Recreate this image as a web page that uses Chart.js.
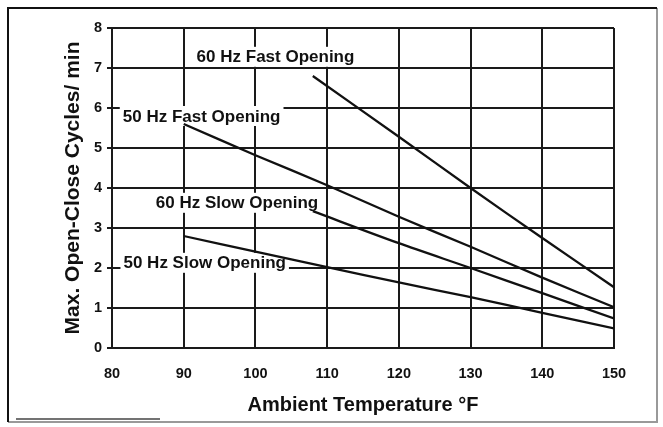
<!DOCTYPE html>
<html>
<head>
<meta charset="utf-8">
<script src="https://cdn.jsdelivr.net/npm/chart.js@4"></script>
<style>
  html, body { margin: 0; padding: 0; background: #fff; }
  #wrap { width: 663px; height: 427px; position: relative; }
</style>
</head>
<body>
<div id="wrap"><canvas id="chart" width="663" height="427"></canvas></div>
<script>
// 축 눈금
const xTicks = [80, 90, 100, 110, 120, 130, 140, 150];
const yTicks = [0, 1, 2, 3, 4, 5, 6, 7, 8];

// 곡선 데이터 (온도 °F / 분당 최대 개폐 횟수)
const fast60Temp = [108, 120, 130, 140, 150];
const fast60Cycles = [6.8, 5.28, 4.0, 2.75, 1.52];

const fast50Temp = [90, 100, 110, 120, 130, 140, 150];
const fast50Cycles = [5.6, 4.82, 4.07, 3.28, 2.53, 1.76, 1.02];

const slow60Temp = [108, 120, 130, 140, 150];
const slow60Cycles = [3.42, 2.62, 2.0, 1.37, 0.74];

const slow50Temp = [90, 100, 110, 120, 130, 140, 150];
const slow50Cycles = [2.8, 2.41, 2.02, 1.64, 1.27, 0.88, 0.49];

// 곡선 이름표 (왼쪽 끝 x, 가운데 y — 데이터 단위)
const labelText = ['60 Hz Fast Opening', '50 Hz Fast Opening', '60 Hz Slow Opening', '50 Hz Slow Opening'];
const labelX = [91.8, 81.5, 86.1, 81.6];
const labelY = [7.28, 5.8, 3.63, 2.13];

function toPoints(xs, ys) {
    return xs.map((x, i) => ({ x: x, y: ys[i] }));
}

function curve(xs, ys) {
    return {
        data: toPoints(xs, ys),
        borderColor: '#111',
        borderWidth: 2.3,
        pointRadius: 0,
        showLine: true,
        fill: false,
        tension: 0.3
    };
}

const FONT = "'Liberation Sans', Arial, sans-serif";

// 바깥 테두리
const framePlugin = {
    id: 'frame',
    beforeDraw(chart) {
        const ctx = chart.ctx;
        ctx.save();
        ctx.fillStyle = '#fff';
        ctx.fillRect(0, 0, chart.width, chart.height);
        ctx.lineWidth = 2;
        ctx.strokeStyle = '#999';
        ctx.beginPath();
        ctx.moveTo(657, 8);
        ctx.lineTo(657, 422);
        ctx.lineTo(8, 422);
        ctx.stroke();
        ctx.strokeStyle = '#111';
        ctx.beginPath();
        ctx.moveTo(8, 422);
        ctx.lineTo(8, 8);
        ctx.lineTo(657, 8);
        ctx.stroke();
        // 왼쪽 아래 짧은 선
        ctx.lineWidth = 1.5;
        ctx.strokeStyle = '#444';
        ctx.beginPath();
        ctx.moveTo(16, 419);
        ctx.lineTo(160, 419);
        ctx.stroke();
        ctx.restore();
    }
};

// 흰 배경 위에 이름표 그리기
const labelPlugin = {
    id: 'curveLabels',
    beforeDatasetsDraw(chart) {
        const ctx = chart.ctx;
        const xs = chart.scales.x;
        const ys = chart.scales.y;
        ctx.save();
        ctx.font = 'bold 17px ' + FONT;
        ctx.textBaseline = 'middle';
        ctx.textAlign = 'left';
        labelText.forEach((t, i) => {
            const px = xs.getPixelForValue(labelX[i]);
            const py = ys.getPixelForValue(labelY[i]);
            const w = ctx.measureText(t).width;
            ctx.fillStyle = '#fff';
            ctx.fillRect(px - 3, py - 10, w + 6, 20);
            ctx.fillStyle = '#111';
            ctx.fillText(t, px, py + 1);
        });
        ctx.restore();
    }
};

new Chart(document.getElementById('chart').getContext('2d'), {
    type: 'scatter',
    data: {
        datasets: [
            curve(fast60Temp, fast60Cycles),
            curve(fast50Temp, fast50Cycles),
            curve(slow60Temp, slow60Cycles),
            curve(slow50Temp, slow50Cycles)
        ]
    },
    options: {
        responsive: false,
        animation: false,
        layout: { padding: { left: 0, top: 28, right: 49, bottom: 0 } },
        plugins: {
            legend: { display: false },
            tooltip: { enabled: false }
        },
        scales: {
            x: {
                type: 'linear',
                min: 80,
                max: 150,
                afterBuildTicks(scale) { scale.ticks = xTicks.map(v => ({ value: v })); },
                afterFit(scale) { scale.height = 79; },
                grid: { color: '#1a1a1a', lineWidth: 2, tickLength: 0 },
                border: { color: '#1a1a1a', width: 2 },
                ticks: {
                    color: '#111',
                    padding: 17,
                    maxRotation: 0,
                    font: { family: FONT, size: 14.5, weight: 'bold' }
                },
                title: {
                    display: true,
                    text: 'Ambient Temperature °F',
                    color: '#111',
                    padding: { top: 0, bottom: 10 },
                    font: { family: FONT, size: 20, weight: 'bold' }
                }
            },
            y: {
                min: 0,
                max: 8,
                afterBuildTicks(scale) { scale.ticks = yTicks.map(v => ({ value: v })); },
                afterFit(scale) { scale.width = 112; },
                grid: { color: '#1a1a1a', lineWidth: 2, tickLength: 5 },
                border: { color: '#1a1a1a', width: 2 },
                ticks: {
                    color: '#111',
                    padding: 5,
                    font: { family: FONT, size: 14.5, weight: 'bold' }
                },
                title: {
                    display: true,
                    text: 'Max. Open-Close Cycles/ min',
                    color: '#111',
                    padding: { top: 61, bottom: 0 },
                    font: { family: FONT, size: 21, weight: 'bold' }
                }
            }
        }
    },
    plugins: [framePlugin, labelPlugin]
});
</script>
</body>
</html>
